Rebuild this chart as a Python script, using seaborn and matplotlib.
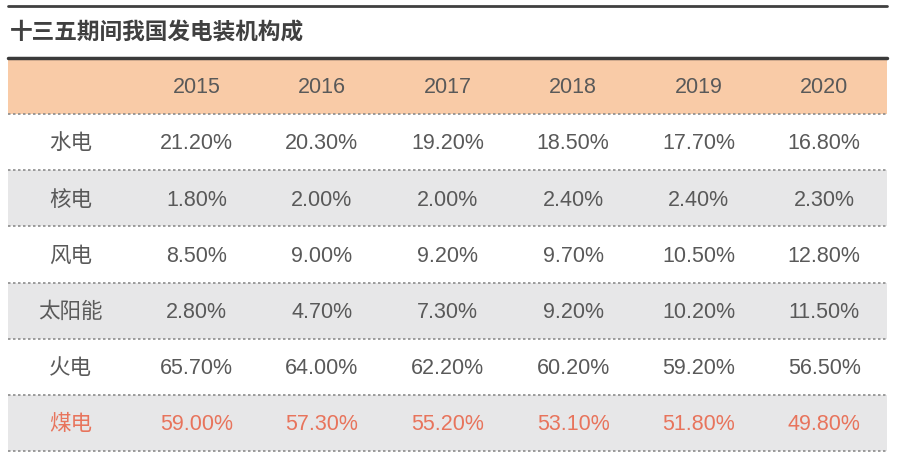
import matplotlib
matplotlib.use('Agg')
import matplotlib.pyplot as plt
from matplotlib.colors import ListedColormap
import seaborn as sns
import numpy as np
import pandas as pd

### table data
title = '十三五期间我国发电装机构成'
years = ['2015', '2016', '2017', '2018', '2019', '2020']
categories = ['水电', '核电', '风电', '太阳能', '火电', '煤电']
hydro = [21.2, 20.3, 19.2, 18.5, 17.7, 16.8]
nuclear = [1.8, 2.0, 2.0, 2.4, 2.4, 2.3]
wind = [8.5, 9.0, 9.2, 9.7, 10.5, 12.8]
solar = [2.8, 4.7, 7.3, 9.2, 10.2, 11.5]
thermal = [65.7, 64.0, 62.2, 60.2, 59.2, 56.5]
coal = [59.0, 57.3, 55.2, 53.1, 51.8, 49.8]
highlight_row = '煤电'

### style
sns.set_theme(style='white')
plt.rcParams['font.family'] = ['Liberation Sans', 'Noto Sans CJK SC', 'DejaVu Sans']

text_grey = '#595959'
red = '#E8745C'
peach = '#F9CBA7'
row_grey = '#E7E7E8'

# build string table + background table
series = [hydro, nuclear, wind, solar, thermal, coal]
rows = [[''] + years]
for cat, vals in zip(categories, series):
    rows.append([cat] + ['%.2f%%' % v for v in vals])
annot_df = pd.DataFrame(rows)

# 0 = white, 1 = grey band, 2 = header
bg = np.zeros(annot_df.shape)
bg[0, :] = 2
for i in range(1, len(rows)):
    if i % 2 == 0:
        bg[i, :] = 1

fig = plt.figure(figsize=(9, 4.58), dpi=100)
W, H = 900, 458
left, right, top, bottom = 8, 887, 58, 451
ax = fig.add_axes([left / W, 1 - bottom / H, (right - left) / W, (bottom - top) / H])

sns.heatmap(bg, annot=annot_df.values, fmt='', cmap=ListedColormap(['white', row_grey, peach]),
            vmin=0, vmax=2, cbar=False, ax=ax, xticklabels=False, yticklabels=False,
            annot_kws={'fontsize': 15.5, 'color': text_grey})

# colour the highlighted row red, nudge text down a touch
ncol = annot_df.shape[1]
hl = categories.index(highlight_row) + 1
for k, t in enumerate(ax.texts):
    t.set_color(text_grey)
    x, y = t.get_position()
    t.set_position((x, y + 0.03))
    if k // ncol == hl:
        t.set_color(red)

# dotted separators
for i in range(1, len(rows) + 1):
    ax.axhline(i, color='#8c8c8c', lw=1.2, ls=(0, (1.5, 1.5)), clip_on=False)
ax.axhline(0, color='#3a3a3a', lw=2.5, clip_on=False)
for s in ax.spines.values():
    s.set_visible(False)

# top rule and title
fig.add_artist(plt.Line2D([left / W, right / W], [1 - 6 / H, 1 - 6 / H], color='#404040', lw=2))
fig.text(10 / W, 1 - 33.5 / H, title, fontsize=16.3, fontweight='bold', color='#404040',
         va='center', ha='left')

fig.savefig('out.png', dpi=100)
